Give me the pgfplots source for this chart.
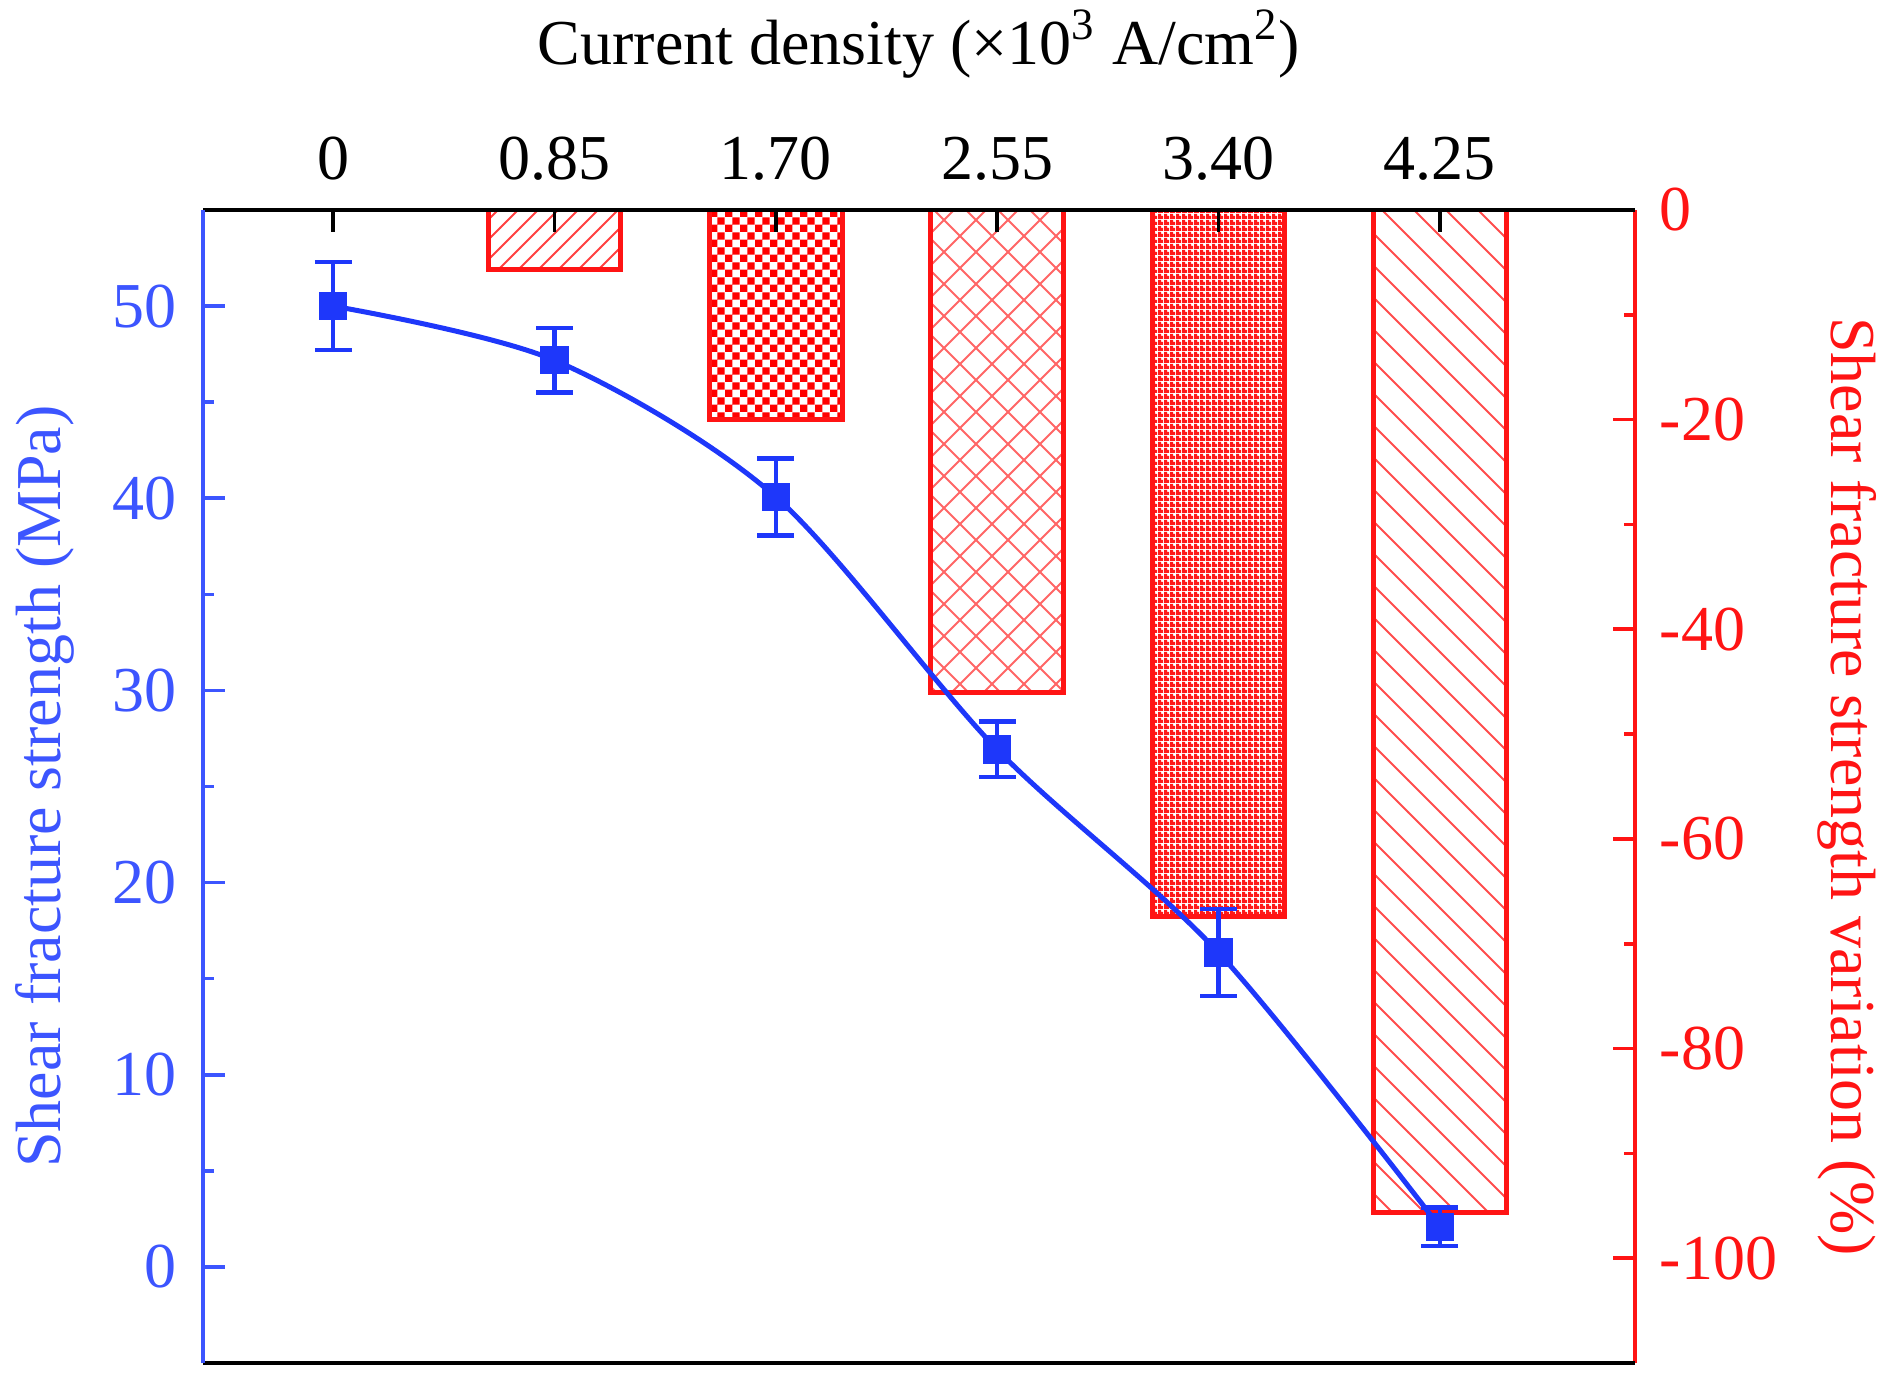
\documentclass[border=0pt]{standalone}
\usepackage{fontspec}
\setmainfont{Liberation Serif}
\usepackage{pgfplots}
\pgfplotsset{compat=1.18}
\usetikzlibrary{patterns}

\definecolor{dblue}{RGB}{30,55,250}
\definecolor{lblue}{RGB}{60,85,255}
\definecolor{dred}{RGB}{255,20,20}

% fill patterns of the five bars
\pgfdeclarepatternformonly{neL}{\pgfqpoint{-1bp}{-1bp}}{\pgfqpoint{6bp}{6bp}}{\pgfqpoint{5bp}{5bp}}{%
  \pgfsetlinewidth{0.5bp}\pgfpathmoveto{\pgfqpoint{0bp}{0bp}}\pgfpathlineto{\pgfqpoint{5.1bp}{5.1bp}}\pgfusepath{stroke}}
\pgfdeclarepatternformonly{nwL}{\pgfqpoint{-1bp}{-1bp}}{\pgfqpoint{9bp}{9bp}}{\pgfqpoint{8bp}{8bp}}{%
  \pgfsetlinewidth{0.5bp}\pgfpathmoveto{\pgfqpoint{0bp}{8bp}}\pgfpathlineto{\pgfqpoint{8.1bp}{-0.1bp}}\pgfusepath{stroke}}
\pgfdeclarepatternformonly{xhatch}{\pgfqpoint{-1bp}{-1bp}}{\pgfqpoint{9bp}{9bp}}{\pgfqpoint{8bp}{8bp}}{%
  \pgfsetlinewidth{0.5bp}\pgfpathmoveto{\pgfqpoint{0bp}{0bp}}\pgfpathlineto{\pgfqpoint{8.1bp}{8.1bp}}
  \pgfpathmoveto{\pgfqpoint{0bp}{8bp}}\pgfpathlineto{\pgfqpoint{8.1bp}{-0.1bp}}\pgfusepath{stroke}}
\pgfdeclarepatternformonly{checkA}{\pgfpointorigin}{\pgfqpoint{3.7bp}{3.7bp}}{\pgfqpoint{3.7bp}{3.7bp}}{%
  \pgfpathrectangle{\pgfpointorigin}{\pgfqpoint{1.85bp}{1.85bp}}
  \pgfpathrectangle{\pgfqpoint{1.85bp}{1.85bp}}{\pgfqpoint{1.85bp}{1.85bp}}\pgfusepath{fill}}
\pgfdeclarepatternformonly{checkB}{\pgfpointorigin}{\pgfqpoint{1.5bp}{1.5bp}}{\pgfqpoint{1.5bp}{1.5bp}}{%
  \pgfpathrectangle{\pgfpointorigin}{\pgfqpoint{1.5bp}{0.9bp}}
  \pgfpathrectangle{\pgfpointorigin}{\pgfqpoint{0.9bp}{1.5bp}}\pgfusepath{fill}}

\pgfplotstableread{
x     y      e
0     50.0   2.3
0.85  47.18  1.67
1.70  40.07  2.0
2.55  26.93  1.45
3.40  16.36  2.26
4.25  2.09   1.0
}\strength

\begin{document}
\begin{tikzpicture}[font=\fontsize{16bp}{19bp}\selectfont]
\pgfplotsset{
  base/.style={
    scale only axis, width=358bp, height=288.25bp,
    xmin=-0.5, xmax=5.0,
    tick align=inside, major tick length=5.5bp, minor tick length=2.8bp,
    minor y tick num=1,
  },
}
% variation bars, right axis
\begin{axis}[base,
  axis x line=none, axis y line*=right,
  ymin=-110, ymax=0,
  ytick={-100,-80,-60,-40,-20,0},
  yticklabels={-100,-80,-60,-40,-20,0},
  y axis line style={dred, line width=1bp},
  ytick style={dred, line width=0.9bp},
  yticklabel style={dred, xshift=2.7bp},
  ylabel={Shear fracture strength variation (\%)},
  ylabel style={dred, at={(axis description cs:1.148,0.5)}, anchor=center, rotate=180},
  ybar, bar width=0.51, bar shift=0pt,
  every axis plot/.append style={draw=dred, line width=1.25bp},
]
\addplot[pattern=neL, pattern color=red!75] coordinates {(0.85,-5.67)};
\addplot[pattern=checkA, pattern color=red] coordinates {(1.70,-19.94)};
\addplot[pattern=xhatch, pattern color=red!60] coordinates {(2.55,-46.07)};
\addplot[pattern=checkB, pattern color=red!90] coordinates {(3.40,-67.4)};
\addplot[pattern=nwL, pattern color=red!70] coordinates {(4.25,-95.6)};
\coordinate (bl) at (rel axis cs:0,0);
\coordinate (tr) at (rel axis cs:1,1);
\end{axis}
% strength, left axis
\begin{axis}[base,
  axis y line*=left,
  ymin=-5, ymax=55,
  ytick={0,10,20,30,40,50},
  yticklabels={0,10,20,30,40,50},
  y axis line style={lblue, line width=1bp},
  ytick style={lblue, line width=0.9bp},
  yticklabel style={lblue, xshift=-3bp},
  ylabel={Shear fracture strength (MPa)},
  ylabel style={lblue, at={(axis description cs:-0.1103,0.5)}, anchor=center},
  x axis line style={black, line width=1.1bp},
  xtick={0,0.85,1.70,2.55,3.40,4.25},
  xticklabels={0,0.85,1.70,2.55,3.40,4.25},
  xtick pos=right, xticklabel pos=right,
  xtick style={black, line width=0.9bp},
  xticklabel style={yshift=4bp},
  title={Current density (×10\textsuperscript{3} A/cm\textsuperscript{2})},
  title style={at={(axis description cs:0.5,1)}, anchor=base, yshift=30.5bp},
]
\addplot[dblue, line width=1.25bp, smooth, mark=square*, mark size=2.9bp,
  mark options={solid, fill=dblue},
  error bars/.cd, y dir=both, y explicit,
  error bar style={line width=1.1bp, dblue},
  error mark options={rotate=90, mark size=4.6bp, line width=1.1bp, dblue}]
  table[x=x, y=y, y error=e] {\strength};
\end{axis}
\pgfresetboundingbox
\path ([shift={(-50.75bp,-6.25bp)}]bl) rectangle ([shift={(65bp,52.5bp)}]tr);
\end{tikzpicture}
\end{document}
